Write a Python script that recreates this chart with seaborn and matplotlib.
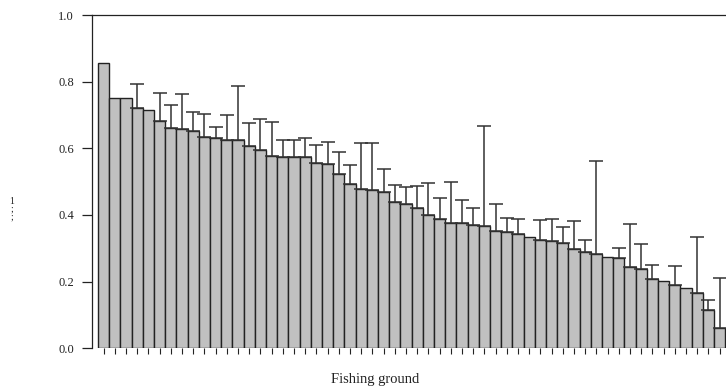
import numpy as np
import pandas as pd
import matplotlib
matplotlib.use("Agg")
import matplotlib.pyplot as plt
import seaborn as sns

grounds = [str(i) for i in range(1, 57)]
means = [0.857, 0.750, 0.750, 0.721, 0.714, 0.683, 0.662, 0.657, 0.653, 0.634,
         0.632, 0.626, 0.625, 0.606, 0.595, 0.578, 0.573, 0.573, 0.573, 0.557,
         0.552, 0.522, 0.494, 0.477, 0.474, 0.468, 0.438, 0.433, 0.420, 0.401,
         0.388, 0.376, 0.375, 0.369, 0.366, 0.352, 0.349, 0.343, 0.333, 0.324,
         0.322, 0.316, 0.299, 0.290, 0.282, 0.273, 0.270, 0.245, 0.237, 0.209,
         0.201, 0.191, 0.181, 0.167, 0.114, 0.062]
upper = [None, None, None, 0.793, None, 0.765, 0.729, 0.764, 0.710, 0.703,
         0.665, 0.699, 0.786, 0.675, 0.688, 0.679, 0.625, 0.624, 0.632, 0.610,
         0.618, 0.588, 0.549, 0.617, 0.617, 0.539, 0.491, 0.483, 0.488, 0.496,
         0.452, 0.500, 0.444, 0.420, 0.667, 0.432, 0.392, 0.389, None, 0.386,
         0.388, 0.365, 0.381, 0.324, 0.562, None, 0.300, 0.372, 0.314, 0.251,
         None, 0.247, None, 0.334, 0.144, 0.211]
yticks = [0.0, 0.2, 0.4, 0.6, 0.8, 1.0]

df = pd.DataFrame({"ground": grounds, "value": means})

sns.set_theme(style="ticks")
plt.rcParams["font.family"] = ["Liberation Serif", "DejaVu Serif"]

fig = plt.figure(figsize=(7.26, 3.90), dpi=100)
ax = fig.add_axes([92 / 726, 41.7 / 390, 634 / 726, 333.3 / 390])

sns.barplot(data=df, x="ground", y="value", order=grounds, color="#c0c0c0",
            saturation=1, width=1.0, edgecolor="#222222", linewidth=1.0,
            errorbar=None, ax=ax)

# upper-only error bars
xs = [i for i, u in enumerate(upper) if u is not None]
ys = [means[i] for i in xs]
up = [upper[i] - means[i] for i in xs]
ax.errorbar(xs, ys, yerr=[np.zeros(len(xs)), up], fmt="none",
            ecolor="#333333", elinewidth=1.1, capsize=4.8, capthick=1.1,
            zorder=3)

ax.set_ylim(0, 1.0)
ax.set_xlim(-1.036, 55.57)
ax.set_yticks(yticks)
ax.set_yticklabels([f"{t:.1f}" for t in yticks], fontsize=9)
ax.set_xticklabels([])
ax.tick_params(axis="y", direction="out", length=7, width=0.9, pad=6,
               colors="#222222")
ax.tick_params(axis="x", direction="out", length=4, width=0.8,
               colors="#222222")
ax.set_xlabel("")
ax.set_ylabel("")
ax.spines["right"].set_visible(False)
ax.spines["bottom"].set_visible(False)
ax.spines["top"].set_visible(True)
ax.spines["left"].set_linewidth(0.9)
ax.spines["top"].set_linewidth(0.9)
ax.spines["left"].set_color("#222222")
ax.spines["top"].set_color("#222222")

fig.text(375 / 726, 1 - 379 / 390, "Fishing ground", ha="center",
         va="center", fontsize=10.5, color="#222222")
fig.text(12 / 726, 1 - 209 / 390, "1\n;\n;", ha="center", va="center",
         fontsize=7, linespacing=0.8, color="#222222")

fig.savefig("out.png", dpi=100)
